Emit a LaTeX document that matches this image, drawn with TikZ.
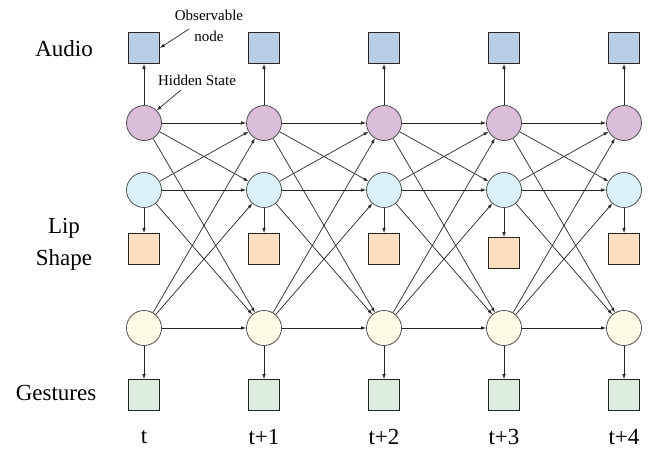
\documentclass[tikz,border=0pt]{standalone}
\usepackage{fontspec}
\setmainfont{Liberation Serif}
\newfontfamily\timesfont{Liberation Serif}
\usetikzlibrary{positioning, arrows.meta}

\definecolor{audiobox}{RGB}{184,204,228}
\definecolor{purphid}{RGB}{216,190,216}
\definecolor{liphid}{RGB}{218,240,250}
\definecolor{lipbox}{RGB}{253,223,192}
\definecolor{gesthid}{RGB}{254,252,228}
\definecolor{gestbox}{RGB}{220,236,222}

\tikzset{
  hid/.style={circle, draw=black!75, line width=0.7pt, minimum size=35pt, inner sep=0pt},
  obs/.style={rectangle, draw=black!85, line width=0.7pt, minimum size=31pt, inner sep=0pt},
  biglabel/.style={font=\timesfont\fontsize{23}{32}\selectfont, align=center},
  note/.style={font=\timesfont\fontsize{15}{21}\selectfont, align=center},
}

\begin{document}
\begin{tikzpicture}[node distance=120pt, on grid, >={Latex[length=5pt,width=3.5pt]}, line width=0.7pt, draw=black!85]
  \useasboundingbox (0,0) rectangle (661pt,-450pt);
  % first time slice
  \node[hid, fill=purphid] (p0) at (144pt,-123pt) {};
  \node[obs, fill=audiobox] (a0) [above=75pt of p0] {};
  \node[hid, fill=liphid] (b0) [below=67pt of p0] {};
  \node[obs, fill=lipbox] (l0) [below=59pt of b0] {};
  \node[hid, fill=gesthid] (y0) [below=138pt of b0] {};
  \node[obs, fill=gestbox] (g0) [below=67pt of y0] {};
  \node[biglabel] (t0) [below=42pt of g0] {t};
  \path[->] (p0) edge (a0)
            (b0) edge (l0)
            (y0) edge (g0);
  % remaining time slices
  \foreach \i [remember=\i as \j (initially 0)] in {1,...,4} {
    \pgfmathsetmacro\ld{\i==3 ? 63 : 59}
    \node[hid, fill=purphid] (p\i) [right=of p\j] {};
    \node[obs, fill=audiobox] (a\i) [above=75pt of p\i] {};
    \node[hid, fill=liphid] (b\i) [right=of b\j] {};
    \node[obs, fill=lipbox] (l\i) [below=\ld pt of b\i] {};
    \node[hid, fill=gesthid] (y\i) [right=of y\j] {};
    \node[obs, fill=gestbox] (g\i) [below=67pt of y\i] {};
    \node[biglabel] (t\i) [below=42pt of g\i] {t+\i};
    \path[->] (p\i) edge (a\i)
              (b\i) edge (l\i)
              (y\i) edge (g\i);
    \foreach \s in {p,b,y}
      \foreach \d in {p,b,y}
        \path[->] (\s\j) edge (\d\i);
  }
  % row labels
  \node[biglabel] (audio) [left=80pt of a0, yshift=-1pt] {Audio};
  \node[biglabel, text width=70pt] (lip) [left=80pt of l0, yshift=5pt] {Lip\\Shape};
  \node[biglabel] (gest) [left=88pt of g0, yshift=2pt] {Gestures};
  % annotations
  \node[note] (obsnote) [right=65pt of a0, yshift=22pt] {Observable\\node};
  \coordinate[right=45pt of a0, yshift=19pt] (obsfrom);
  \draw[->] (obsfrom) -- (a0.east);
  \node[note] (hidnote) [right=53pt of p0, yshift=43pt] {Hidden State};
  \coordinate[right=37pt of p0, yshift=33pt] (hidfrom);
  \draw[->] (hidfrom) -- (p0.north east);
\end{tikzpicture}
\end{document}
